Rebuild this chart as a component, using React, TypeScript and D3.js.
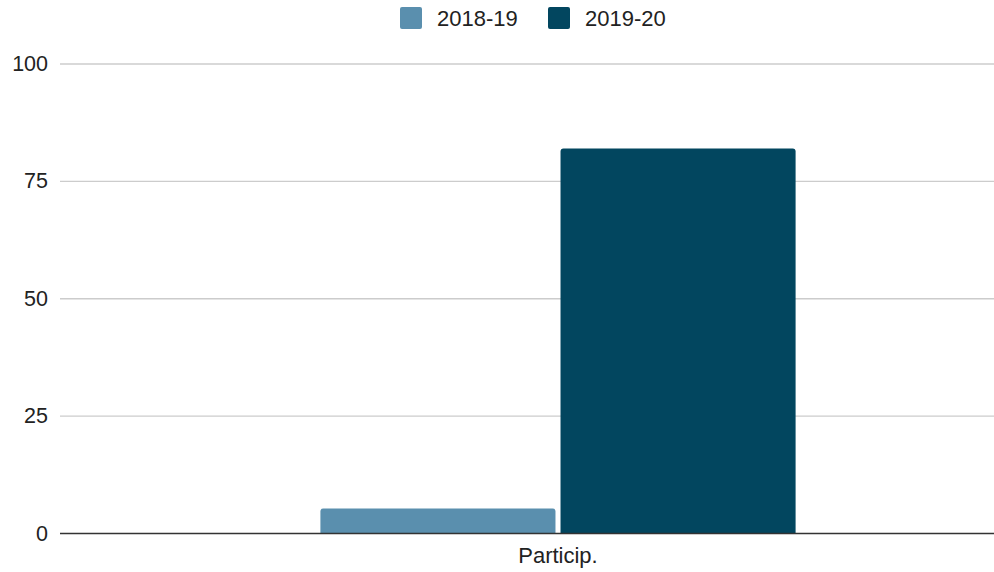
import React from "react";
import * as d3 from "d3";

const categories = ["Particip."];
const seriesNames = ["2018-19", "2019-20"];
const values2018 = [5.3];
const values2019 = [82];
const yTicks = [0, 25, 50, 75, 100];
const colors = ["#5a8fae", "#02465f"];

export default function App() {
  const W = 994, H = 572;
  const y = d3.scaleLinear().domain([0, 100]).range([533.5, 64]);
  const x = d3.scaleBand().domain(categories).range([60, 1056]).paddingOuter(0.548).paddingInner(0);
  const inner = d3.scaleBand().domain(seriesNames).range([0, x.bandwidth()]).paddingInner(0.021);
  const series = [values2018, values2019];
  const font = "'Liberation Sans', Arial, sans-serif";

  const barPath = (x0: number, w: number, y0: number, y1: number, r: number) => {
    const rr = Math.min(r, (y1 - y0) / 2, w / 2);
    return `M${x0},${y1}V${y0 + rr}Q${x0},${y0} ${x0 + rr},${y0}H${x0 + w - rr}Q${x0 + w},${y0} ${x0 + w},${y0 + rr}V${y1}Z`;
  };

  const legendX = [400, 548];
  return (
    <svg width={W} height={H} style={{ position: "absolute", left: 0, top: 0, background: "#fff" }}>
      <rect width={W} height={H} fill="#fff" />
      {yTicks.filter(t => t !== 0).map(t => (
        <line key={t} x1={60} x2={W} y1={y(t)} y2={y(t)} stroke="#cccccc" strokeWidth={1.3} />
      ))}
      {yTicks.map(t => (
        <text key={"l" + t} x={48} y={y(t) + 7} textAnchor="end" fontFamily={font} fontSize={21.5} fill="#222">{t}</text>
      ))}
      {categories.map((c, ci) => (
        <g key={c}>
          {seriesNames.map((s, si) => {
            const x0 = (x(c) as number) + (inner(s) as number);
            const v = series[si][ci];
            return <path key={s} d={barPath(x0, inner.bandwidth(), y(v), y(0), 3)} fill={colors[si]} />;
          })}
          <text x={(x(c) as number) + x.bandwidth() / 2} y={563} textAnchor="middle" fontFamily={font} fontSize={22} fill="#222">{c}</text>
        </g>
      ))}
      <line x1={60} x2={W} y1={y(0)} y2={y(0)} stroke="#333" strokeWidth={1.5} />
      {seriesNames.map((s, i) => (
        <g key={s}>
          <rect x={legendX[i]} y={7} width={22} height={22} rx={2} fill={colors[i]} />
          <text x={legendX[i] + 37} y={26} fontFamily={font} fontSize={22} fill="#222">{s}</text>
        </g>
      ))}
    </svg>
  );
}
